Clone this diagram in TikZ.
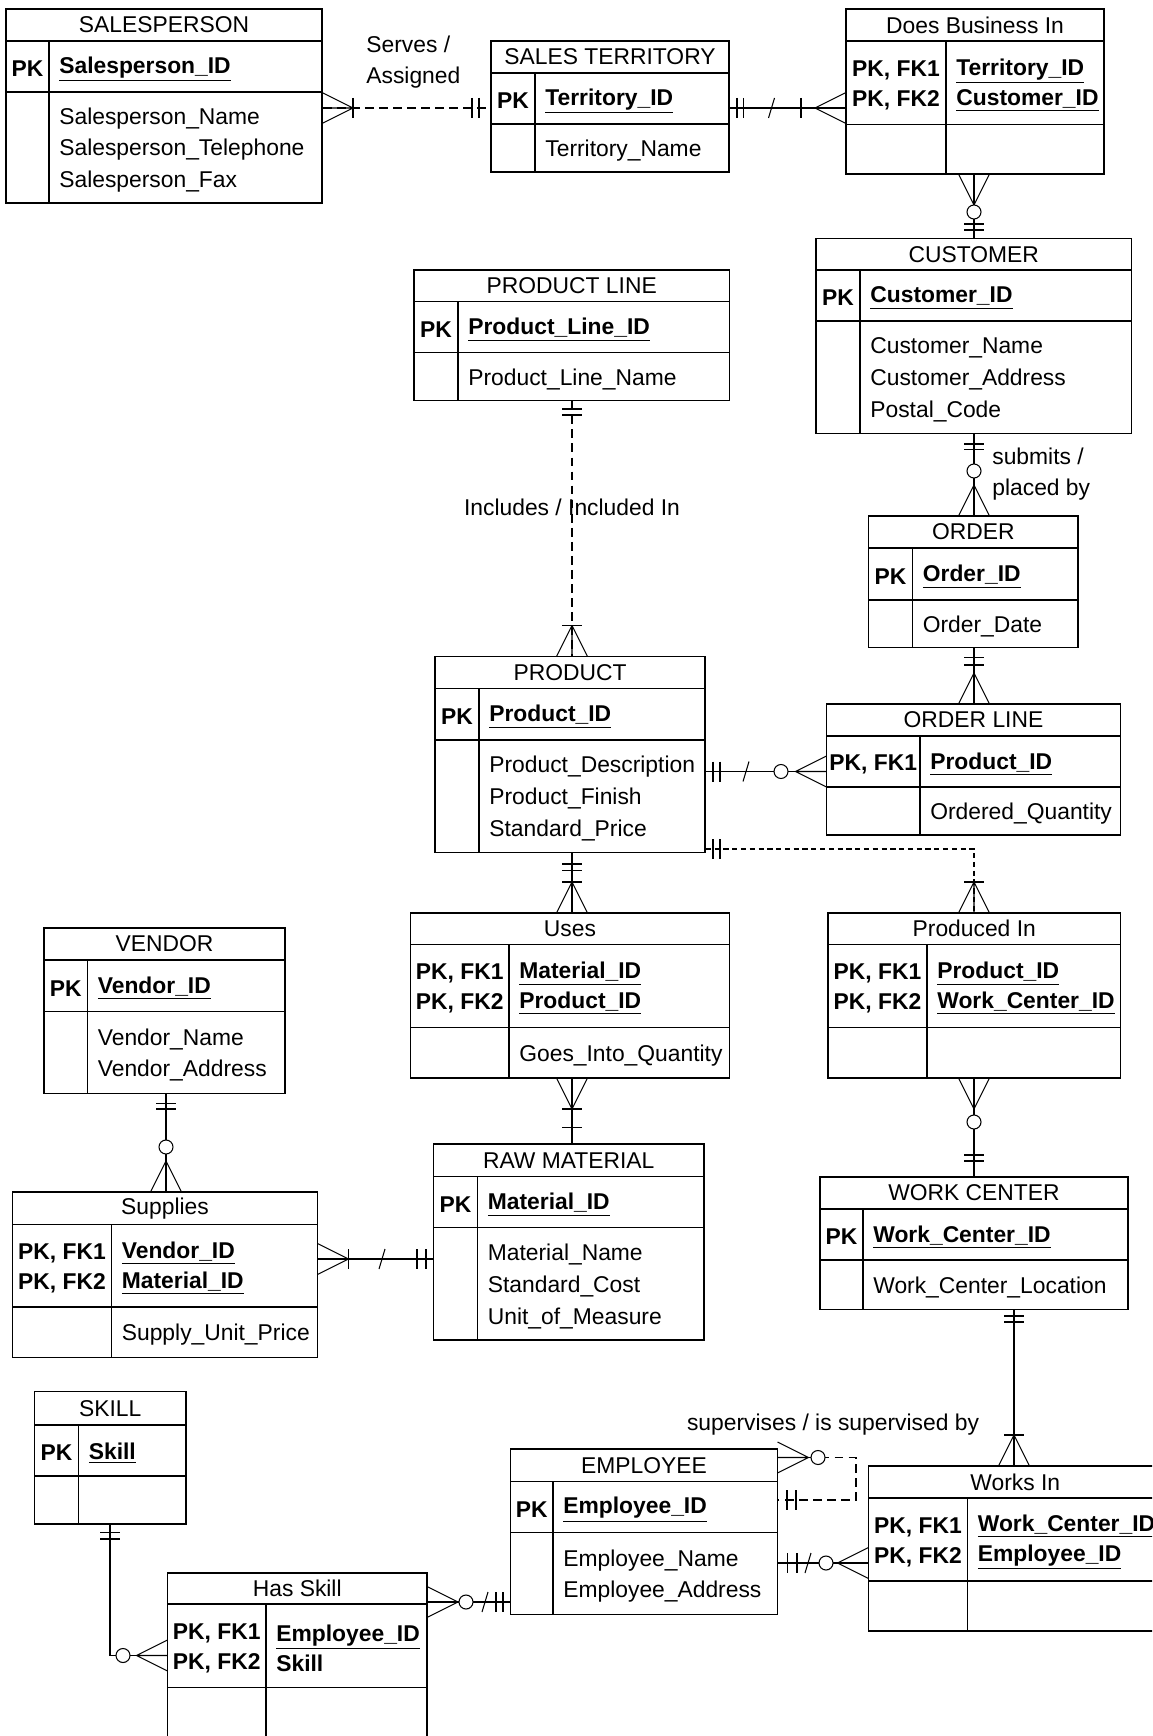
\documentclass[tikz,border=0pt]{standalone}
\usepackage{fontspec}
\setmainfont{Liberation Sans}
\usetikzlibrary{fit}

\tikzset{
  entity/.style={draw, line width=0.9pt, inner sep=0pt},
  erline/.style={line width=0.9pt},
  rel/.style={line width=0.6pt},
  reldash/.style={rel, dash pattern=on 5pt off 3pt},
  reldot/.style={rel, dash pattern=on 3pt off 2pt},
  ertitle/.style={font=\fontsize{13}{15}\selectfont, inner sep=0pt},
  erkeys/.style={font=\fontsize{13}{17}\selectfont\bfseries, align=left, inner sep=0pt},
  erattrs/.style={font=\fontsize{13}{18.1}\selectfont, align=left, inner sep=0pt, anchor=west},
  rolename/.style={font=\fontsize{13}{17.6}\selectfont, align=left, inner sep=0pt},
  crow/.pic={\draw[rel] (0,0) -- (31,15.5) (0,0) -- (31,-15.5) (0,0) -- (31,0);},
  bar/.pic={\draw[rel] (0,-10) -- (0,10);},
  ring/.pic={\draw[rel, fill=white] (0,0) circle[radius=0.14cm];},
  slash/.pic={\draw[rel] (-3,10) -- (3,-10);}
}

% name, x1, y1, x2, y2, title rule, key rule, column, title
\newcommand{\erframe}[9]{%
  \node[entity, fit={(#2,#3) (#4,#5)}] (#1) {};
  \draw[erline] (#2,#6) -- (#4,#6) (#2,#7) -- (#4,#7) (#8,#6) -- (#8,#5);
  \node[ertitle] (#1-t) at ({(#2+#4)/2},{(#3+#6)/2}) {#9};
  \def\erL{#2}\def\erB{#5}\def\erT{#6}\def\erK{#7}\def\erV{#8}}
\newcommand{\erfields}[4]{%
  \node[erkeys, align=center] (#1-p) at ({(\erL+\erV)/2},{(\erT+\erK)/2+2.5}) {#2};
  \node[erkeys, anchor=west] (#1-k) at ({\erV+10},{(\erT+\erK)/2+2.5}) {#3};
  \node[erattrs] (#1-a) at ({\erV+10},{(\erK+\erB)/2+2.5}) {#4};}

\begin{document}
\begin{tikzpicture}[x=0.02cm, y=-0.02cm]
  \useasboundingbox (0,0) rectangle (1152,1736);
  \clip (0,0) rectangle (1152,1736);
  \fill[white] (0,0) rectangle (1152,1736);

  \erframe{salesperson}{6}{9}{322}{203}{41}{92}{49}{SALESPERSON}
  \erfields{salesperson}{PK}{\underline{Salesperson\_ID}}{Salesperson\_Name\\Salesperson\_Telephone\\Salesperson\_Fax}
  \erframe{territory}{491}{41}{729}{172}{73}{124}{535}{SALES TERRITORY}
  \erfields{territory}{PK}{\underline{Territory\_ID}}{Territory\_Name}
  \erframe{doesbiz}{846}{9}{1104}{174}{41}{124.5}{946}{Does Business In}
  \erfields{doesbiz}{PK, FK1\\PK, FK2}{\underline{Territory\_ID}\\\underline{Customer\_ID}}{}
  \erframe{customer}{816}{238.5}{1131.5}{433.5}{270}{321}{860}{CUSTOMER}
  \erfields{customer}{PK}{\underline{Customer\_ID}}{Customer\_Name\\Customer\_Address\\Postal\_Code}
  \erframe{prodline}{414}{270}{729.5}{400.5}{301.5}{352.5}{458}{PRODUCT LINE}
  \erfields{prodline}{PK}{\underline{Product\_Line\_ID}}{Product\_Line\_Name}
  \erframe{order}{868.5}{516}{1078}{647.5}{548}{600}{912.5}{ORDER}
  \erfields{order}{PK}{\underline{Order\_ID}}{Order\_Date}
  \erframe{product}{435}{656.5}{705}{852.5}{688.5}{740}{479}{PRODUCT}
  \erfields{product}{PK}{\underline{Product\_ID}}{Product\_Description\\Product\_Finish\\Standard\_Price}
  \erframe{orderline}{826.5}{704}{1120.5}{835}{736}{787}{920}{ORDER LINE}
  \erfields{orderline}{PK, FK1}{\underline{Product\_ID}}{Ordered\_Quantity}
  \erframe{vendor}{44}{928}{285}{1093.5}{960}{1011.5}{87.5}{VENDOR}
  \erfields{vendor}{PK}{\underline{Vendor\_ID}}{Vendor\_Name\\Vendor\_Address}
  \erframe{uses}{410.5}{913}{729.5}{1078}{944.5}{1027.5}{509}{Uses}
  \erfields{uses}{PK, FK1\\PK, FK2}{\underline{Material\_ID}\\\underline{Product\_ID}}{Goes\_Into\_Quantity}
  \erframe{producedin}{828}{913}{1120.5}{1078}{944.5}{1027.5}{927}{Produced In}
  \erfields{producedin}{PK, FK1\\PK, FK2}{\underline{Product\_ID}\\\underline{Work\_Center\_ID}}{}
  \erframe{supplies}{12.5}{1192}{317.5}{1357.5}{1224.5}{1307}{111.5}{Supplies}
  \erfields{supplies}{PK, FK1\\PK, FK2}{\underline{Vendor\_ID}\\\underline{Material\_ID}}{Supply\_Unit\_Price}
  \erframe{rawmat}{433.5}{1144}{704}{1340}{1176.5}{1227.5}{477.5}{RAW MATERIAL}
  \erfields{rawmat}{PK}{\underline{Material\_ID}}{Material\_Name\\Standard\_Cost\\Unit\_of\_Measure}
  \erframe{workcenter}{820}{1177}{1128}{1309.5}{1209}{1260}{863}{WORK CENTER}
  \erfields{workcenter}{PK}{\underline{Work\_Center\_ID}}{Work\_Center\_Location}
  \erframe{skill}{34.5}{1391.5}{186}{1524}{1425}{1476}{78.5}{SKILL}
  \erfields{skill}{PK}{\underline{Skill}}{}
  \erframe{employee}{510.5}{1449}{777.5}{1614.5}{1481.5}{1532.5}{553}{EMPLOYEE}
  \erfields{employee}{PK}{\underline{Employee\_ID}}{Employee\_Name\\Employee\_Address}
  \erframe{worksin}{868.5}{1466}{1162}{1631}{1498}{1581}{967.5}{Works In}
  \erfields{worksin}{PK, FK1\\PK, FK2}{\underline{Work\_Center\_ID}\\\underline{Employee\_ID}}{}
  \erframe{hasskill}{167.5}{1573}{427}{1760}{1604}{1687.5}{266}{Has Skill}
  \erfields{hasskill}{PK, FK1\\PK, FK2}{\underline{Employee\_ID}\\Skill}{}

  % relationships
  \draw[reldash] (salesperson.east |- 0,108) -- (territory.west |- 0,108);
  \pic[rotate=180] at (353,108) {crow}; \pic at (353,108) {bar};
  \pic at (472,108) {bar}; \pic at (479,108) {bar};
  \node[rolename, anchor=west] (serves) at (366,62.5) {Serves /\\Assigned};

  \draw[rel] (territory.east |- 0,108) -- (doesbiz.west |- 0,108);
  \pic at (737,108) {bar}; \pic at (743.5,108) {bar}; \pic at (771.5,108) {slash};
  \pic at (801,108) {bar}; \pic at (815,108) {crow};

  \draw[rel] (doesbiz.south -| 974,0) -- (customer.north -| 974,0);
  \pic[rotate=90] at (974,205) {crow}; \pic at (974,212) {ring};
  \pic[rotate=90] at (974,224) {bar}; \pic[rotate=90] at (974,230) {bar};

  \draw[rel] (customer.south -| 974,0) -- (order.north -| 974,0);
  \pic[rotate=90] at (974,444) {bar}; \pic[rotate=90] at (974,449.5) {bar};
  \pic at (974,471) {ring}; \pic[rotate=-90] at (974,485) {crow};
  \node[rolename, anchor=west] (submits) at (992,474) {submits /\\placed by};

  \draw[reldash] (prodline.south -| 572,0) -- (product.north -| 572,0);
  \pic[rotate=90] at (572,409) {bar}; \pic[rotate=90] at (572,415) {bar};
  \pic[rotate=-90] at (572,625.5) {crow}; \pic[rotate=90] at (572,625.5) {bar};
  \node[rolename] (includes) at (572,507) {Includes / Included In};

  \draw[rel] (order.south -| 974,0) -- (orderline.north -| 974,0);
  \pic[rotate=90] at (974,657.5) {bar}; \pic[rotate=90] at (974,665) {bar};
  \pic[rotate=-90] at (974,673) {crow};

  \draw[rel] (product.east |- 0,771.5) -- (orderline.west |- 0,771.5);
  \pic at (713,771.5) {bar}; \pic at (720,771.5) {bar}; \pic at (746,771.5) {slash};
  \pic at (781,771.5) {ring}; \pic at (795.5,771.5) {crow};

  \draw[reldot] (product.east |- 0,849) -| (producedin.north -| 974,0);
  \pic at (713,849) {bar}; \pic at (720,849) {bar};
  \pic[rotate=-90] at (974,882) {crow}; \pic[rotate=90] at (974,882) {bar};

  \draw[rel] (product.south -| 572,0) -- (uses.north -| 572,0);
  \pic[rotate=90] at (572,864) {bar}; \pic[rotate=90] at (572,870.5) {bar};
  \pic[rotate=-90] at (572,882) {crow}; \pic[rotate=90] at (572,882) {bar};

  \draw[rel] (uses.south -| 572,0) -- (rawmat.north -| 572,0);
  \pic[rotate=90] at (572,1109) {crow}; \pic[rotate=90] at (572,1109) {bar};
  \pic[rotate=90] at (572,1127.5) {bar};

  \draw[rel] (producedin.south -| 974,0) -- (workcenter.north -| 974,0);
  \pic[rotate=90] at (974,1109) {crow}; \pic at (974,1122) {ring};
  \pic[rotate=90] at (974,1155) {bar}; \pic[rotate=90] at (974,1161) {bar};

  \draw[rel] (vendor.south -| 166,0) -- (supplies.north -| 166,0);
  \pic[rotate=90] at (166,1103.5) {bar}; \pic[rotate=90] at (166,1109) {bar};
  \pic at (166,1147) {ring}; \pic[rotate=-90] at (166,1161) {crow};

  \draw[rel] (supplies.east |- 0,1259) -- (rawmat.west |- 0,1259);
  \pic[rotate=180] at (348.5,1259) {crow}; \pic at (348.5,1259) {bar};
  \pic at (382,1259) {slash}; \pic at (417,1259) {bar}; \pic at (426,1259) {bar};

  \draw[rel] (workcenter.south -| 1014,0) -- (worksin.north -| 1014,0);
  \pic[rotate=90] at (1014,1316) {bar}; \pic[rotate=90] at (1014,1322) {bar};
  \pic[rotate=-90] at (1014,1435) {crow}; \pic[rotate=90] at (1014,1435) {bar};

  \draw[rel] (skill.south -| 110,0) |- (hasskill.west |- 0,1655.5);
  \pic[rotate=90] at (110,1532.5) {bar}; \pic[rotate=90] at (110,1539) {bar};
  \pic at (123,1655.5) {ring}; \pic at (136.5,1655.5) {crow};

  \draw[rel] (hasskill.east |- 0,1602) -- (employee.west |- 0,1602);
  \pic[rotate=180] at (458,1602) {crow}; \pic at (466,1602) {ring};
  \pic at (485,1602) {slash}; \pic at (496,1602) {bar}; \pic at (503,1602) {bar};

  \coordinate (supcorner) at (856,1457.5);
  \draw[reldash] (employee.east |- 0,1457.5) -- (supcorner) |- (employee.east |- 0,1500);
  \pic[rotate=180] at (808.5,1457.5) {crow}; \pic at (818,1457.5) {ring};
  \pic at (787,1500) {bar}; \pic at (796,1500) {bar};
  \node[rolename] (supervises) at (833,1425) {supervises / is supervised by};

  \draw[rel] (employee.east |- 0,1563) -- (worksin.west |- 0,1563);
  \pic at (787.5,1563) {bar}; \pic at (797,1563) {bar}; \pic at (808,1563) {slash};
  \pic at (826,1563) {ring}; \pic at (837.5,1563) {crow};
\end{tikzpicture}
\end{document}
